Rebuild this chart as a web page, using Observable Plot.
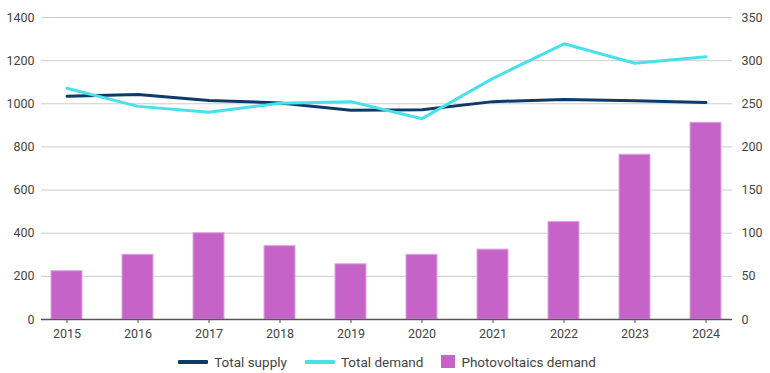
<!DOCTYPE html>
<html>
<head>
<meta charset="utf-8">
<script src="https://cdn.jsdelivr.net/npm/d3@7"></script>
<script src="https://cdn.jsdelivr.net/npm/@observablehq/plot@0.6"></script>
<style>
  html, body { margin: 0; padding: 0; background: #fff; }
  #chart { width: 770px; }
  .legend { display: flex; justify-content: center; align-items: center; height: 23px; font-family: Roboto, sans-serif; font-size: 13.5px; color: #444; padding-left: 4px; }
  .item { display: flex; align-items: center; margin: 0 9px; }
  .line-sw { width: 30px; height: 4px; margin-right: 6px; border-radius: 1px; }
  .sq-sw { width: 14px; height: 13px; margin-right: 6px; }
</style>
</head>
<body>
<div id="chart"></div>
<script>
const years = [2015, 2016, 2017, 2018, 2019, 2020, 2021, 2022, 2023, 2024];
const totalSupply = [1035, 1043, 1015, 1004, 970, 972, 1010, 1020, 1014, 1006];
const totalDemand = [1072, 988, 961, 1003, 1010, 931, 1118, 1278, 1188, 1218];
const pvDemand = [56, 75, 100, 85, 64, 75, 81, 113, 191, 228];
const leftTicks = [0, 200, 400, 600, 800, 1000, 1200, 1400];
const rightTicks = [0, 50, 100, 150, 200, 250, 300, 350];
const seriesNames = ["Total supply", "Total demand", "Photovoltaics demand"];
const colors = ["#0c3b69", "#4ae0eb", "#c563c9"];

const ratio = 1400 / 350;
const rows = years.map((y, i) => ({year: y, supply: totalSupply[i], demand: totalDemand[i], pv: pvDemand[i]}));

const chart = Plot.plot({
  width: 770,
  height: 350,
  marginTop: 17,
  marginBottom: 31,
  marginLeft: 41,
  marginRight: 38,
  style: {fontFamily: "Roboto, sans-serif", fontSize: "12.5px", color: "#444", background: "#fff"},
  x: {type: "band", domain: years, paddingInner: 0.56, paddingOuter: 0.12, label: null},
  y: {domain: [0, 1400], label: null},
  marks: [
    Plot.gridY(leftTicks.slice(1), {stroke: "#cccccc", strokeOpacity: 1, strokeWidth: 1}),
    Plot.barY(rows, {x: "year", y: d => d.pv * ratio, fill: colors[2], stroke: "#e0a6e2", strokeWidth: 1}),
    Plot.ruleY([0], {stroke: "#555", strokeWidth: 1.5}),
    Plot.axisX({tickSize: 4, tickPadding: 6, stroke: "#555", fill: "#444", label: null, tickFormat: d => String(d)}),
    Plot.axisY(leftTicks, {anchor: "left", tickSize: 0, tickPadding: 7, fill: "#444", label: null, tickFormat: d => String(d)}),
    Plot.axisY(rightTicks.map(t => t * ratio), {anchor: "right", tickSize: 0, tickPadding: 9, tickFormat: d => String(d / ratio), fill: "#444", label: null}),
    Plot.line(rows, {x: "year", y: "supply", stroke: colors[0], strokeWidth: 3}),
    Plot.line(rows, {x: "year", y: "demand", stroke: colors[1], strokeWidth: 3})
  ]
});
document.getElementById("chart").appendChild(chart);

const legend = document.createElement("div");
legend.className = "legend";
seriesNames.forEach((name, i) => {
  const item = document.createElement("div");
  item.className = "item";
  const sw = document.createElement("span");
  sw.className = i < 2 ? "line-sw" : "sq-sw";
  sw.style.background = colors[i];
  item.appendChild(sw);
  const t = document.createElement("span");
  t.textContent = name;
  item.appendChild(t);
  legend.appendChild(item);
});
document.getElementById("chart").appendChild(legend);
</script>
</body>
</html>
